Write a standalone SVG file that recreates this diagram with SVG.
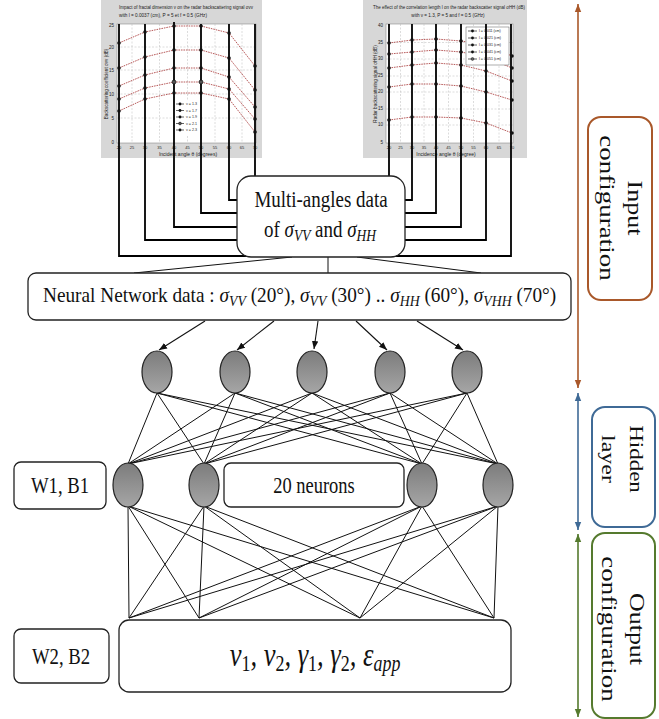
<svg xmlns="http://www.w3.org/2000/svg" width="659" height="719" viewBox="0 0 659 719">
<style>
.serif{font-family:"Liberation Serif","Times New Roman",serif;fill:#111}
.it{font-style:italic}
.box{fill:#fff;stroke:#222;stroke-width:1.3}
.plotbg{fill:#d7d7d7}
.parea{fill:#fff;stroke:#777;stroke-width:0.5}
.grid{stroke:#b8b8b8;stroke-width:0.5;stroke-dasharray:2 1.5;fill:none}
.curve{fill:none;stroke:#b04a4a;stroke-width:0.9;stroke-dasharray:1.6 0.9}
.pt{fill:#111}
.ptxt{font-family:"Liberation Sans",Arial,sans-serif;fill:#222}
.thick{fill:none;stroke:#000;stroke-width:1.8}
.net{stroke:#111;stroke-width:1;fill:none}
.arr{stroke:#111;stroke-width:1.1;fill:none;marker-end:url(#ah)}
.neuron{fill:url(#ng);stroke:#222;stroke-width:1.2}
</style>
<defs>
<linearGradient id="ng" x1="0" y1="0" x2="0" y2="1">
<stop offset="0" stop-color="#7c7c7c"/>
<stop offset="1" stop-color="#a6a6a6"/>
</linearGradient>
<marker id="ah" viewBox="0 0 10 10" refX="10" refY="5" markerWidth="8" markerHeight="8" orient="auto" markerUnits="userSpaceOnUse">
<path d="M0,1 L10,5 L0,9 Z" fill="#111"/>
</marker>
<marker id="brE" viewBox="0 0 10 10" refX="10" refY="5" markerWidth="8" markerHeight="8" orient="auto" markerUnits="userSpaceOnUse"><path d="M0,1 L10,5 L0,9 Z" fill="#a9582a"/></marker>
<marker id="brS" viewBox="0 0 10 10" refX="0" refY="5" markerWidth="8" markerHeight="8" orient="auto" markerUnits="userSpaceOnUse"><path d="M10,1 L0,5 L10,9 Z" fill="#a9582a"/></marker>
<marker id="blE" viewBox="0 0 10 10" refX="10" refY="5" markerWidth="8" markerHeight="8" orient="auto" markerUnits="userSpaceOnUse"><path d="M0,1 L10,5 L0,9 Z" fill="#3f6a96"/></marker>
<marker id="blS" viewBox="0 0 10 10" refX="0" refY="5" markerWidth="8" markerHeight="8" orient="auto" markerUnits="userSpaceOnUse"><path d="M10,1 L0,5 L10,9 Z" fill="#3f6a96"/></marker>
<marker id="grE" viewBox="0 0 10 10" refX="10" refY="5" markerWidth="8" markerHeight="8" orient="auto" markerUnits="userSpaceOnUse"><path d="M0,1 L10,5 L0,9 Z" fill="#557a2e"/></marker>
<marker id="grS" viewBox="0 0 10 10" refX="0" refY="5" markerWidth="8" markerHeight="8" orient="auto" markerUnits="userSpaceOnUse"><path d="M10,1 L0,5 L10,9 Z" fill="#557a2e"/></marker>
</defs>
<rect width="659" height="719" fill="#fff"/>

<!-- Plot 1 -->
<g id="plot1">
<rect class="plotbg" x="101" y="0" width="161" height="158"/>
<rect class="parea" x="117" y="24" width="139" height="119"/>
<path class="grid" d="M132,24V143M159.5,24V143M187.5,24V143M215,24V143M242,24V143M117,47H256M117,70H256M117,94H256M117,118H256"/>
<text class="ptxt" x="119" y="9" font-size="4.6" textLength="134" lengthAdjust="spacingAndGlyphs">Impact of fractal dimension ν on the radar backscattering signal σvv</text>
<text class="ptxt" x="119" y="17" font-size="4.6" textLength="88" lengthAdjust="spacingAndGlyphs">with l = 0.0037 (cm), P = 5 et f = 0.5 (GHz)</text>
<g class="ptxt" font-size="4.5" text-anchor="end">
<text x="114" y="27">25</text><text x="114" y="49">20</text><text x="114" y="72">15</text><text x="114" y="96">10</text><text x="114" y="120">5</text><text x="114" y="144">0</text>
</g>
<g class="ptxt" font-size="4" text-anchor="middle">
<text x="119" y="149">20</text><text x="132" y="149">25</text><text x="145" y="149">30</text><text x="159.5" y="149">35</text><text x="174" y="149">40</text><text x="187.5" y="149">45</text><text x="201" y="149">50</text><text x="215" y="149">55</text><text x="229" y="149">60</text><text x="242" y="149">65</text><text x="255" y="149">70</text>
</g>
<text class="ptxt" x="188" y="156" font-size="5" text-anchor="middle">Incident angle θ (degrees)</text>
<text class="ptxt" transform="translate(108,84) rotate(-90)" font-size="4.6" text-anchor="middle">Backscattering coefficient σvv (dB)</text>
<polyline class="curve" points="119,43 145,32 174,26 201,26 229,33 255,66"/>
<polyline class="curve" points="119,68 145,57 174,50 201,50 229,58 255,90"/>
<polyline class="curve" points="119,86 145,75 174,68 201,68 229,77 255,107"/>
<polyline class="curve" points="119,99 145,88 174,82 201,82 229,89 255,119"/>
<polyline class="curve" points="119,111 145,99 174,93 201,93 229,99 255,132"/>
<rect x="174" y="100" width="27" height="35" fill="#fff"/>
<g class="ptxt" font-size="3.6">
<path d="M176,104h8M176,110.5h8M176,117h8M176,123.5h8M176,130h8" stroke="#222" stroke-width="0.7"/>
<circle class="pt" cx="180" cy="104" r="1.4"/><circle class="pt" cx="180" cy="110.5" r="1.4"/><circle class="pt" cx="180" cy="117" r="1.4"/><circle cx="180" cy="123.5" r="1.4" fill="#555" stroke="#111" stroke-width="0.5"/><circle class="pt" cx="180" cy="130" r="1.4"/>
<text x="186" y="105.3">ν = 1.3</text><text x="186" y="111.8">ν = 1.7</text><text x="186" y="118.3">ν = 1.9</text><text x="186" y="124.8">ν = 2.1</text><text x="186" y="131.3">ν = 2.3</text>
</g>
</g>

<!-- Plot 2 -->
<g id="plot2">
<rect class="plotbg" x="363" y="0" width="164" height="158"/>
<rect class="parea" x="386" y="24" width="127" height="119"/>
<path class="grid" d="M400.5,24V143M424,24V143M448.5,24V143M473.5,24V143M499,24V143M386,42.5H513M386,59H513M386,76H513M386,92H513M386,109H513M386,125H513"/>
<text class="ptxt" x="373" y="9" font-size="4.6" textLength="152" lengthAdjust="spacingAndGlyphs">The effect of the correlation length l on the radar backscatter signal σHH (dB)</text>
<text class="ptxt" x="448" y="17" font-size="4.6" text-anchor="middle">with ν = 1.3, P = 5 and f = 0.5 (GHz)</text>
<g class="ptxt" font-size="4.5" text-anchor="end">
<text x="383" y="27">40</text><text x="383" y="44">35</text><text x="383" y="60">30</text><text x="383" y="77">25</text><text x="383" y="93">20</text><text x="383" y="110">15</text><text x="383" y="126">10</text><text x="383" y="144">5</text>
</g>
<g class="ptxt" font-size="4" text-anchor="middle">
<text x="389" y="149">20</text><text x="400.5" y="149">25</text><text x="412" y="149">30</text><text x="424" y="149">35</text><text x="436" y="149">40</text><text x="448.5" y="149">45</text><text x="461" y="149">50</text><text x="473.5" y="149">55</text><text x="486" y="149">60</text><text x="499" y="149">65</text><text x="512" y="149">70</text>
</g>
<text class="ptxt" x="446" y="156" font-size="5" text-anchor="middle">Incidence angle θ (degree)</text>
<text class="ptxt" transform="translate(377,84) rotate(-90)" font-size="4.6" text-anchor="middle">Radar backscattering signal σHH (dB)</text>
<polyline class="curve" points="389,43 412,40 436,39 461,41 486,45 512,56"/>
<polyline class="curve" points="389,54 412,52 436,50 461,52 486,57 512,68"/>
<polyline class="curve" points="389,68 412,65 436,63 461,65 486,71 512,81"/>
<polyline class="curve" points="389,87 412,84 436,84 461,86 486,92 512,100"/>
<polyline class="curve" points="389,120 412,117 436,117 461,118 486,123 512,133"/>
<rect x="466" y="27" width="43" height="38" fill="#fff" stroke="#333" stroke-width="0.4"/>
<g class="ptxt" font-size="3.6">
<path d="M468,31h9M468,38h9M468,45h9M468,52h9M468,59h9" stroke="#222" stroke-width="0.7"/>
<circle class="pt" cx="472.5" cy="31" r="1.4"/><circle class="pt" cx="472.5" cy="38" r="1.4"/><circle class="pt" cx="472.5" cy="45" r="1.4"/><circle class="pt" cx="472.5" cy="52" r="1.4"/><circle cx="472.5" cy="59" r="1.4" fill="#666" stroke="#111" stroke-width="0.5"/>
<text x="479" y="32.3">l = 0.011 (cm)</text><text x="479" y="39.3">l = 0.021 (cm)</text><text x="479" y="46.3">l = 0.031 (cm)</text><text x="479" y="53.3">l = 0.041 (cm)</text><text x="479" y="60.3">l = 0.051 (cm)</text>
</g>
</g>

<!-- connectors -->
<g id="connectors">
<path class="thick" d="M119,24V256H511V24"/>
<path class="thick" d="M145,24V240H237M174,22V227H237M201,24V213H237M229,24V200H237M255,24V176"/>
<path class="thick" d="M389,24V176M412,24V200H405M436,24V213H405M461,24V227H405M486,24V240H405"/>
<g class="pt">
<circle cx="119" cy="43" r="1.8"/><circle cx="145" cy="32" r="1.8"/><circle cx="174" cy="26" r="1.8"/><circle cx="201" cy="26" r="1.8"/><circle cx="229" cy="33" r="1.8"/><circle cx="255" cy="66" r="1.8"/>
<circle cx="119" cy="68" r="1.8"/><circle cx="145" cy="57" r="1.8"/><circle cx="174" cy="50" r="1.8"/><circle cx="201" cy="50" r="1.8"/><circle cx="229" cy="58" r="1.8"/><circle cx="255" cy="90" r="1.8"/>
<circle cx="119" cy="86" r="1.8"/><circle cx="145" cy="75" r="1.8"/><circle cx="174" cy="68" r="1.8"/><circle cx="201" cy="68" r="1.8"/><circle cx="229" cy="77" r="1.8"/><circle cx="255" cy="107" r="1.8"/>
<circle cx="119" cy="99" r="1.8"/><circle cx="145" cy="88" r="1.8"/><circle cx="174" cy="82" r="2" fill="#555" stroke="#000" stroke-width="0.6"/><circle cx="201" cy="82" r="2" fill="#555" stroke="#000" stroke-width="0.6"/><circle cx="229" cy="89" r="1.8"/><circle cx="255" cy="119" r="1.8"/>
<circle cx="119" cy="111" r="1.8"/><circle cx="145" cy="99" r="1.8"/><circle cx="174" cy="93" r="1.8"/><circle cx="201" cy="93" r="1.8"/><circle cx="229" cy="99" r="1.8"/><circle cx="255" cy="132" r="1.8"/>
<circle cx="389" cy="43" r="1.8"/><circle cx="412" cy="40" r="1.8"/><circle cx="436" cy="39" r="1.8"/><circle cx="461" cy="41" r="1.8"/><circle cx="512" cy="56" r="1.8"/>
<circle cx="389" cy="54" r="1.8"/><circle cx="412" cy="52" r="1.8"/><circle cx="436" cy="50" r="1.8"/><circle cx="461" cy="52" r="1.8"/><circle cx="512" cy="68" r="1.8"/>
<circle cx="389" cy="68" r="1.8"/><circle cx="412" cy="65" r="1.8"/><circle cx="436" cy="63" r="1.8"/><circle cx="461" cy="65" r="1.8"/><circle cx="486" cy="71" r="1.8"/><circle cx="512" cy="81" r="1.8"/>
<circle cx="389" cy="87" r="1.8"/><circle cx="412" cy="84" r="1.8"/><circle cx="436" cy="84" r="1.8"/><circle cx="461" cy="86" r="1.8"/><circle cx="486" cy="92" r="1.8"/><circle cx="512" cy="100" r="1.8"/>
<circle cx="389" cy="120" r="1.8"/><circle cx="412" cy="117" r="1.8"/><circle cx="436" cy="117" r="1.8"/><circle cx="461" cy="118" r="1.8"/><circle cx="486" cy="123" r="1.8"/><circle cx="512" cy="133" r="1.8"/>
</g>
<path class="net" stroke-width="1.4" d="M292,257L134,273M328,257V273M357,257L481,273"/>
<line class="arr" x1="205" y1="321" x2="159" y2="350"/>
<line class="arr" x1="274" y1="321" x2="237" y2="350"/>
<line class="arr" x1="318" y1="321" x2="314" y2="349"/>
<line class="arr" x1="356" y1="321" x2="387" y2="350"/>
<line class="arr" x1="417" y1="321" x2="463" y2="350"/>
<path class="net" d="M157,393L128,464M157,393L204,464M157,393L422,464M157,393L498,464
M235,393L128,464M235,393L204,464M235,393L422,464M235,393L498,464
M312,393L128,464M312,393L204,464M312,393L422,464M312,393L498,464
M390,393L128,464M390,393L204,464M390,393L422,464M390,393L498,464
M467,393L128,464M467,393L204,464M467,393L422,464M467,393L498,464"/>
<path class="net" d="M128,506L129,618M128,506L199,618M128,506L360,618M128,506L494,618
M204,506L129,618M204,506L199,618M204,506L360,618M204,506L494,618
M422,506L129,618M422,506L199,618M422,506L360,618M422,506L494,618
M498,506L129,618M498,506L199,618M498,506L360,618M498,506L494,618"/>
<line x1="578" y1="4" x2="578" y2="388" stroke="#a9582a" stroke-width="1.6" marker-start="url(#brS)" marker-end="url(#brE)"/>
<line x1="578" y1="393" x2="578" y2="530" stroke="#3f6a96" stroke-width="1.6" marker-start="url(#blS)" marker-end="url(#blE)"/>
<line x1="578" y1="534" x2="578" y2="717" stroke="#557a2e" stroke-width="1.6" marker-start="url(#grS)" marker-end="url(#grE)"/>
</g>

<g id="multi-angles">
<rect class="box" x="237" y="176" width="168" height="81" rx="14"/>
<g transform="translate(321,207) scale(0.79,1)"><text class="serif" x="0" y="0" font-size="24" text-anchor="middle">Multi-angles data</text></g>
<g transform="translate(320,237) scale(0.79,1)"><text class="serif" x="0" y="0" font-size="24" text-anchor="middle">of <tspan class="it">σ</tspan><tspan class="it" font-size="17" dy="4">VV</tspan><tspan dy="-4"> and </tspan><tspan class="it">σ</tspan><tspan class="it" font-size="17" dy="4">HH</tspan></text></g>
</g>

<g id="nn-data">
<rect class="box" x="28" y="273" width="543" height="47" rx="8"/>
<g transform="translate(43,302) scale(0.918,1)"><text class="serif" x="0" y="0" font-size="21">Neural Network data : <tspan class="it">σ</tspan><tspan class="it" font-size="15" dy="4">VV</tspan><tspan dy="-4"> (20°), </tspan><tspan class="it">σ</tspan><tspan class="it" font-size="15" dy="4">VV</tspan><tspan dy="-4"> (30°) .. </tspan><tspan class="it">σ</tspan><tspan class="it" font-size="15" dy="4">HH</tspan><tspan dy="-4"> (60°), </tspan><tspan class="it">σ</tspan><tspan class="it" font-size="15" dy="4">VHH</tspan><tspan dy="-4"> (70°)</tspan></text></g>
</g>

<g id="input-neurons">
<ellipse class="neuron" cx="157" cy="372" rx="15" ry="21"/>
<ellipse class="neuron" cx="235" cy="372" rx="15" ry="21"/>
<ellipse class="neuron" cx="312" cy="372" rx="15" ry="21"/>
<ellipse class="neuron" cx="390" cy="372" rx="15" ry="21"/>
<ellipse class="neuron" cx="467" cy="372" rx="15" ry="21"/>
</g>

<g id="hidden-neurons">
<ellipse class="neuron" cx="128" cy="485" rx="15" ry="22"/>
<ellipse class="neuron" cx="204" cy="485" rx="15" ry="22"/>
<ellipse class="neuron" cx="422" cy="485" rx="15" ry="22"/>
<ellipse class="neuron" cx="498" cy="485" rx="15" ry="22"/>
</g>

<g id="w1b1">
<rect class="box" x="14" y="462" width="92" height="47" rx="7"/>
<g transform="translate(60,493) scale(0.78,1)"><text class="serif" x="0" y="0" font-size="24" text-anchor="middle">W1, B1</text></g>
</g>

<g id="neurons20">
<rect class="box" x="224" y="463" width="180" height="44" rx="7"/>
<g transform="translate(314,493) scale(0.77,1)"><text class="serif" x="0" y="0" font-size="24" text-anchor="middle">20 neurons</text></g>
</g>

<g id="w2b2">
<rect class="box" x="14" y="629" width="95" height="54" rx="7"/>
<g transform="translate(61,664) scale(0.78,1)"><text class="serif" x="0" y="0" font-size="24" text-anchor="middle">W2, B2</text></g>
</g>

<g id="output">
<rect class="box" x="119" y="620" width="392" height="72" rx="10"/>
<g transform="translate(315,666) scale(0.78,1)"><text class="serif it" x="0" y="0" font-size="34" text-anchor="middle">ν<tspan font-style="normal" font-size="23" dy="5">1</tspan><tspan dy="-5">, ν</tspan><tspan font-style="normal" font-size="23" dy="5">2</tspan><tspan dy="-5">, γ</tspan><tspan font-style="normal" font-size="23" dy="5">1</tspan><tspan dy="-5">, γ</tspan><tspan font-style="normal" font-size="23" dy="5">2</tspan><tspan dy="-5">, ε</tspan><tspan font-size="23" dy="5">app</tspan></text></g>
</g>

<g id="input-config">
<rect x="588" y="117" width="64" height="183" rx="13" fill="#fff" stroke="#a9582a" stroke-width="2"/>
<g transform="translate(620,208) scale(0.8,1) rotate(90)">
<text class="serif" x="0" y="-10" font-size="26" text-anchor="middle">Input</text>
<text class="serif" x="0" y="25" font-size="27" text-anchor="middle">configuration</text>
</g>
</g>

<g id="hidden-layer">
<rect x="592" y="407" width="63" height="120" rx="13" fill="#fff" stroke="#3f6a96" stroke-width="2"/>
<g transform="translate(622,459) scale(0.8,1) rotate(90)">
<text class="serif" x="0" y="-10" font-size="23" text-anchor="middle">Hidden</text>
<text class="serif" x="0" y="25" font-size="24" text-anchor="middle">layer</text>
</g>
</g>

<g id="output-config">
<rect x="592" y="533" width="63" height="185" rx="13" fill="#fff" stroke="#557a2e" stroke-width="2"/>
<g transform="translate(622,629) scale(0.8,1) rotate(90)">
<text class="serif" x="0" y="-10" font-size="26" text-anchor="middle">Output</text>
<text class="serif" x="0" y="25" font-size="27" text-anchor="middle">configuration</text>
</g>
</g>
</svg>
